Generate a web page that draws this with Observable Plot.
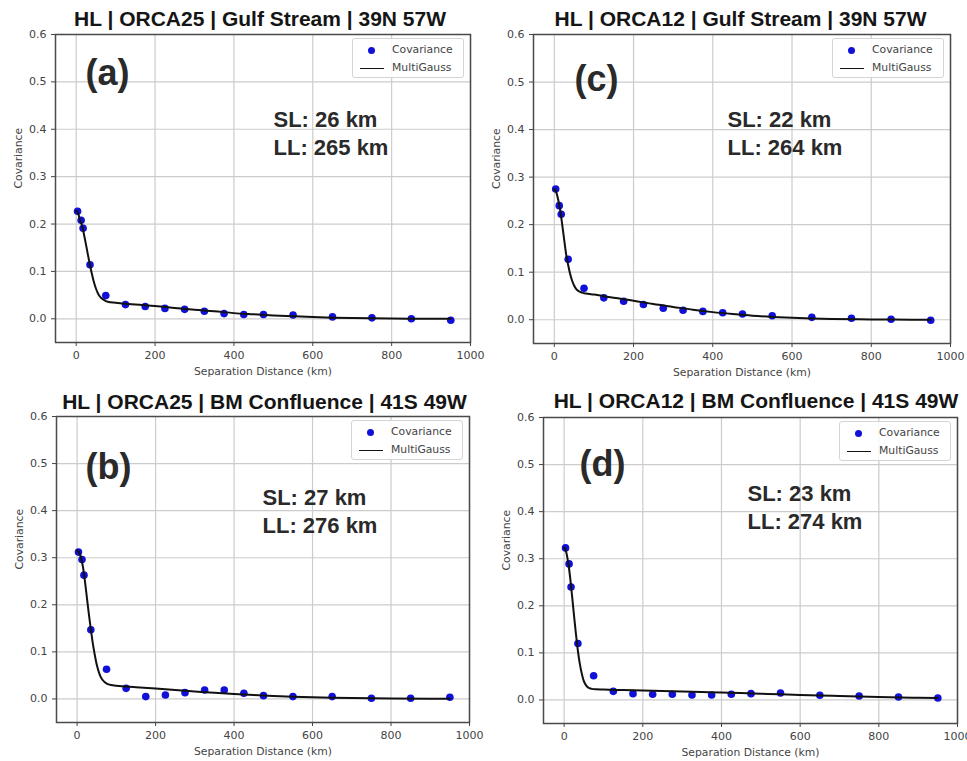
<!DOCTYPE html>
<html>
<head>
<meta charset="utf-8">
<script src="https://cdn.jsdelivr.net/npm/d3@7"></script>
<script src="https://cdn.jsdelivr.net/npm/@observablehq/plot@0.6"></script>
<style>
html, body { margin: 0; padding: 0; background: #fff; }
#wrap { position: relative; width: 967px; height: 761px; overflow: hidden; background: #fff; }
.panel { position: absolute; overflow: visible; }
.panel svg { overflow: visible; }
.legend { position: absolute; box-sizing: border-box; border: 1px solid #d4d4d4; border-radius: 3px;
  background: rgba(255,255,255,0.85); font-family: "DejaVu Sans", sans-serif; font-size: 10.8px; color: #444; }
.legend span { position: absolute; white-space: nowrap; }
</style>
</head>
<body>
<div id="wrap"></div>
<script>
// ---------------- data ----------------
const titles = [
  "HL | ORCA25 | Gulf Stream | 39N 57W",
  "HL | ORCA12 | Gulf Stream | 39N 57W",
  "HL | ORCA25 | BM Confluence | 41S 49W",
  "HL | ORCA12 | BM Confluence | 41S 49W"
];
const panelLabels = ["(a)", "(c)", "(b)", "(d)"];
const slLabels = ["SL: 26 km", "SL: 22 km", "SL: 27 km", "SL: 23 km"];
const llLabels = ["LL: 265 km", "LL: 264 km", "LL: 276 km", "LL: 274 km"];
const legendLabels = ["Covariance", "MultiGauss"];
const xLabel = "Separation Distance (km)";
const yLabel = "Covariance";
const xTicks = [0, 200, 400, 600, 800, 1000];
const yTicks = [0.0, 0.1, 0.2, 0.3, 0.4, 0.5, 0.6];
const xDomain = [-52.5, 1000];
const yDomain = [-0.05, 0.6];

// binned covariance (points)
const distance = [3.5, 12.5, 17.5, 35, 75, 125, 175, 225, 275, 325, 375, 425, 475, 550, 650, 750, 850, 950];
const cov_a = [0.227, 0.208, 0.191, 0.114, 0.049, 0.030, 0.026, 0.022, 0.020, 0.016, 0.011, 0.009, 0.009, 0.008, 0.004, 0.002, 0.000, -0.003];
const cov_c = [0.275, 0.240, 0.222, 0.127, 0.066, 0.046, 0.039, 0.032, 0.024, 0.020, 0.0175, 0.0147, 0.012, 0.0084, 0.005, 0.003, 0.001, -0.001];
const cov_b = [0.312, 0.296, 0.263, 0.147, 0.063, 0.0225, 0.005, 0.0085, 0.0134, 0.019, 0.019, 0.012, 0.007, 0.005, 0.005, 0.0014, 0.0014, 0.0035];
const cov_d = [0.323, 0.289, 0.240, 0.120, 0.0514, 0.0183, 0.0134, 0.012, 0.012, 0.0106, 0.0106, 0.012, 0.0134, 0.0148, 0.0099, 0.0085, 0.0063, 0.0042];

// MultiGauss fit (line)
const fitDistance = [0, 5, 10, 15, 20, 25, 30, 35, 40, 45, 50, 55, 60, 70, 80, 100, 150, 200, 250, 300, 350, 400, 450, 500, 550, 600, 650, 700, 800, 900, 950];
const fit_a = [0.228, 0.222, 0.208, 0.196, 0.177, 0.156, 0.134, 0.113, 0.094, 0.077, 0.064, 0.054, 0.047, 0.040, 0.036, 0.034, 0.030, 0.027, 0.023, 0.019, 0.016, 0.012, 0.0095, 0.0072, 0.0053, 0.0036, 0.0024, 0.0015, 0.0006, 0.0002, 0.0001];
const fit_c = [0.275, 0.268, 0.252, 0.230, 0.200, 0.168, 0.137, 0.115, 0.096, 0.082, 0.072, 0.065, 0.061, 0.057, 0.055, 0.053, 0.046, 0.040, 0.033, 0.027, 0.021, 0.016, 0.012, 0.0085, 0.006, 0.004, 0.0026, 0.0016, 0.0006, 0.0002, 0.0001];
const fit_b = [0.316, 0.311, 0.300, 0.280, 0.250, 0.215, 0.180, 0.148, 0.118, 0.094, 0.073, 0.058, 0.047, 0.036, 0.031, 0.028, 0.025, 0.022, 0.019, 0.016, 0.013, 0.0105, 0.0083, 0.0065, 0.0049, 0.0037, 0.0027, 0.0019, 0.0009, 0.0004, 0.0003];
const fit_d = [0.324, 0.315, 0.293, 0.262, 0.222, 0.180, 0.140, 0.104, 0.076, 0.055, 0.040, 0.032, 0.027, 0.0235, 0.0225, 0.022, 0.021, 0.020, 0.019, 0.018, 0.017, 0.0158, 0.0146, 0.0133, 0.012, 0.0108, 0.0096, 0.0084, 0.0064, 0.0047, 0.0040];

const covs = [cov_a, cov_c, cov_b, cov_d];
const fits = [fit_a, fit_c, fit_b, fit_d];

// ---------------- layout ----------------
const layout = [
  {left: 0,   top: 0,   width: 480, height: 380, mL: 55, mR: 10, mT: 34, mB: 38, tdx: -3,  tdy: -9,  pdx: 30, pdy: 50.5, sdx: 218, sdy: 92},
  {left: 480, top: 0,   width: 487, height: 380, mL: 53, mR: 17, mT: 34, mB: 37, tdx: -1.5, tdy: -9, pdx: 41, pdy: 56.5, sdx: 194, sdy: 92},
  {left: 0,   top: 380, width: 480, height: 381, mL: 56, mR: 11, mT: 36, mB: 39, tdx: 1.5, tdy: -8,  pdx: 29, pdy: 62.5, sdx: 206, sdy: 88},
  {left: 480, top: 380, width: 487, height: 381, mL: 63, mR: 10, mT: 37, mB: 38, tdx: 5.5, tdy: -10, pdx: 36, pdy: 58.5, sdx: 204, sdy: 83}
];

const blue = "#1010d8";
const wrap = document.getElementById("wrap");

layout.forEach((cfg, i) => {
  const pts = distance.map((d, k) => ({d, v: covs[i][k]}));
  const fit = fitDistance.map((d, k) => ({d, v: fits[i][k]}));
  const bold = {fontFamily: "Liberation Sans, Arial, sans-serif", fontWeight: "bold", textAnchor: "start", lineAnchor: "bottom", frameAnchor: "top-left"};
  const chart = Plot.plot({
    width: cfg.width, height: cfg.height,
    marginLeft: cfg.mL, marginRight: cfg.mR, marginTop: cfg.mT, marginBottom: cfg.mB,
    style: {fontFamily: "DejaVu Sans, sans-serif", fontSize: "11px", color: "#444", background: "transparent", overflow: "visible"},
    x: {domain: xDomain},
    y: {domain: yDomain},
    marks: [
      Plot.gridX(xTicks, {stroke: "#cccccc", strokeOpacity: 1, strokeWidth: 1.2}),
      Plot.gridY(yTicks, {stroke: "#cccccc", strokeOpacity: 1, strokeWidth: 1.2}),
      Plot.axisX(xTicks, {tickSize: 4, tickPadding: 5, tickFormat: d => String(d), color: "#444", fontSize: 11, label: null}),
      Plot.axisY(yTicks, {tickSize: 4, tickPadding: 5, tickFormat: d3.format(".1f"), color: "#444", fontSize: 11, label: null}),
      Plot.frame({stroke: "#4a4a4a", strokeWidth: 1.5}),
      Plot.dot(pts, {x: "d", y: "v", r: 3.8, fill: blue, stroke: null}),
      Plot.line(fit, {x: "d", y: "v", stroke: "#111", strokeWidth: 2, curve: "monotone-x"}),
      Plot.text([titles[i]], {text: d => d, frameAnchor: "top", lineAnchor: "bottom", dx: cfg.tdx, dy: cfg.tdy,
        fontFamily: "Liberation Sans, Arial, sans-serif", fontWeight: "bold", fontSize: 21, fill: "#151515"}),
      Plot.text([panelLabels[i]], {...bold, text: d => d, dx: cfg.pdx, dy: cfg.pdy, fontSize: 36, fill: "#2a2a2a"}),
      Plot.text([slLabels[i]], {...bold, text: d => d, dx: cfg.sdx, dy: cfg.sdy, fontSize: 22, fill: "#2a2a2a"}),
      Plot.text([llLabels[i]], {...bold, text: d => d, dx: cfg.sdx, dy: cfg.sdy + 28, fontSize: 22, fill: "#2a2a2a"}),
      Plot.text([xLabel], {text: d => d, frameAnchor: "bottom", lineAnchor: "bottom", dy: 32.5, fontSize: 10.8, fill: "#444"}),
      Plot.text([yLabel], {text: d => d, frameAnchor: "left", lineAnchor: "bottom", rotate: -90, dx: -33.5, fontSize: 10.8, fill: "#444"})
    ]
  });
  const div = document.createElement("div");
  div.className = "panel";
  div.style.left = cfg.left + "px";
  div.style.top = cfg.top + "px";
  div.style.width = cfg.width + "px";
  div.style.height = cfg.height + "px";
  div.appendChild(chart);

  // legend
  const lw = 112, lh = 40;
  const leg = document.createElement("div");
  leg.className = "legend";
  leg.style.left = (cfg.width - cfg.mR - 6 - lw) + "px";
  leg.style.top = (cfg.mT + 4) + "px";
  leg.style.width = lw + "px";
  leg.style.height = lh + "px";
  leg.innerHTML =
    `<span style="left:15px;top:8px;width:7px;height:7px;border-radius:50%;background:${blue}"></span>` +
    `<span style="left:39px;top:4px;line-height:14px">${legendLabels[0]}</span>` +
    `<span style="left:6.5px;top:28.5px;width:24.5px;height:1.8px;background:#111"></span>` +
    `<span style="left:39px;top:22px;line-height:14px">${legendLabels[1]}</span>`;
  div.appendChild(leg);
  wrap.appendChild(div);
});
</script>
</body>
</html>
